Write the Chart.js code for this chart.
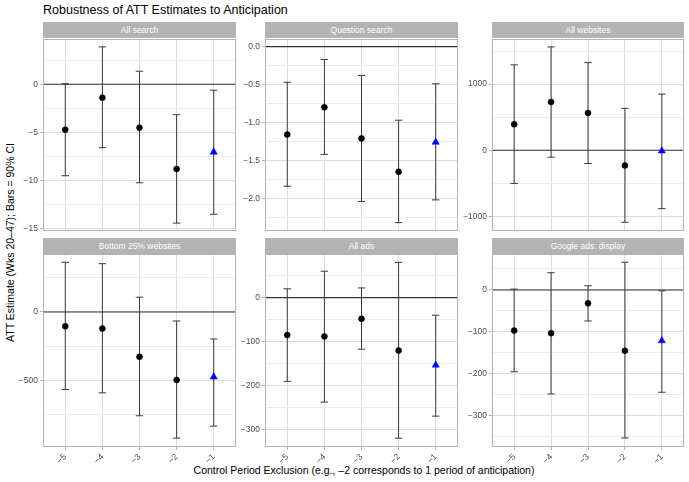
<!DOCTYPE html>
<html>
<head>
<meta charset="utf-8">
<script src="https://cdn.jsdelivr.net/npm/chart.js@4.4.1/dist/chart.umd.min.js"></script>
<style>
  html, body { margin: 0; padding: 0; }
  body {
    width: 689px; height: 482px; position: relative; overflow: hidden;
    background: #ffffff; font-family: "Liberation Sans", Arial, sans-serif;
  }
  .title { position: absolute; left: 43px; top: 3px; font-size: 12.5px; line-height: 15px; color: #000; white-space: nowrap; }
  .strip {
    position: absolute; height: 16px; background: #b3b3b3; color: #ffffff;
    font-size: 8.5px; line-height: 16px; text-align: center; white-space: nowrap;
  }
  .axis-title { position: absolute; font-size: 10.5px; line-height: 13px; color: #000; text-align: center; white-space: nowrap; }
  canvas { position: absolute; }
</style>
</head>
<body>
<div class="title">Robustness of ATT Estimates to Anticipation</div>
<div class="axis-title" style="left:-140px; top:236px; width:300px; transform:rotate(-90deg);">ATT Estimate (Wks 20–47); Bars = 90% CI</div>
<div class="axis-title" style="left:114px; top:464px; width:500px;">Control Period Exclusion (e.g., –2 corresponds to 1 period of anticipation)</div>

<script>
// Control-period exclusions on the x axis (the last one, -1, is the highlighted spec)
const exclusions = [-5, -4, -3, -2, -1];
const xTickLabels = ['\u22125', '\u22124', '\u22123', '\u22122', '\u22121'];

const panelTitles = ['All search', 'Question search', 'All websites',
                     'Bottom 25% websites', 'All ads', 'Google ads: display'];

// Point estimates and 90% CI bounds per outcome
const allSearchEst  = [-4.72, -1.39, -4.51, -8.80, -7.04];
const allSearchLow  = [-9.50, -6.59, -10.23, -14.42, -13.50];
const allSearchHigh = [0.06, 3.88, 1.35, -3.16, -0.62];

const questionSearchEst  = [-1.16, -0.80, -1.21, -1.65, -1.26];
const questionSearchLow  = [-1.84, -1.42, -2.04, -2.32, -2.02];
const questionSearchHigh = [-0.47, -0.17, -0.38, -0.97, -0.49];

const allWebsitesEst  = [392, 729, 563, -230, -10];
const allWebsitesLow  = [-502, -105, -200, -1089, -883];
const allWebsitesHigh = [1291, 1562, 1325, 633, 849];

const bottom25Est  = [-105, -122, -329, -498, -476];
const bottom25Low  = [-569, -593, -761, -925, -837];
const bottom25High = [364, 354, 108, -66, -198];

const allAdsEst  = [-85, -88, -48, -120, -153];
const allAdsLow  = [-190, -237, -117, -319, -269];
const allAdsHigh = [20, 60, 22, 80, -40];

const googleDisplayEst  = [-97, -103, -32, -145, -121];
const googleDisplayLow  = [-195, -248, -74, -353, -244];
const googleDisplayHigh = [2, 41, 10, 66, -2];

// Y tick values and labels per panel
const allSearchTicks = [0, -5, -10, -15];
const allSearchTickLabels = ['0', '\u22125', '\u221210', '\u221215'];
const questionSearchTicks = [0, -0.5, -1, -1.5, -2];
const questionSearchTickLabels = ['0.0', '\u22120.5', '\u22121.0', '\u22121.5', '\u22122.0'];
const allWebsitesTicks = [1000, 0, -1000];
const allWebsitesTickLabels = ['1000', '0', '\u22121000'];
const bottom25Ticks = [0, -500];
const bottom25TickLabels = ['0', '\u2212500'];
const allAdsTicks = [0, -100, -200, -300];
const allAdsTickLabels = ['0', '\u2212100', '\u2212200', '\u2212300'];
const googleDisplayTicks = [0, -100, -200, -300];
const googleDisplayTickLabels = ['0', '\u2212100', '\u2212200', '\u2212300'];

// Minor grid values
const allSearchMinor = [2.5, -2.5, -7.5, -12.5];
const questionSearchMinor = [-0.25, -0.75, -1.25, -1.75, -2.25];
const allWebsitesMinor = [1500, 500, -500];
const bottom25Minor = [250, -250, -750];
const allAdsMinor = [50, -50, -150, -250];
const googleDisplayMinor = [50, -50, -150, -250, -350];

// Panel geometry: plot-area boxes and y ranges
const colLeft = [43, 265, 492];
const colWidth = [193, 193, 192];
const rowTop = [39, 254];
const rowHeight = [192, 193];
const stripTop = [22, 238];

const panels = [
  { est: allSearchEst, low: allSearchLow, high: allSearchHigh, ticks: allSearchTicks, labels: allSearchTickLabels, minor: allSearchMinor, yMin: -15.24, yMax: 4.7 },
  { est: questionSearchEst, low: questionSearchLow, high: questionSearchHigh, ticks: questionSearchTicks, labels: questionSearchTickLabels, minor: questionSearchMinor, yMin: -2.43, yMax: 0.10 },
  { est: allWebsitesEst, low: allWebsitesLow, high: allWebsitesHigh, ticks: allWebsitesTicks, labels: allWebsitesTickLabels, minor: allWebsitesMinor, yMin: -1221, yMax: 1682 },
  { est: bottom25Est, low: bottom25Low, high: bottom25High, ticks: bottom25Ticks, labels: bottom25TickLabels, minor: bottom25Minor, yMin: -990, yMax: 425 },
  { est: allAdsEst, low: allAdsLow, high: allAdsHigh, ticks: allAdsTicks, labels: allAdsTickLabels, minor: allAdsMinor, yMin: -339, yMax: 99 },
  { est: googleDisplayEst, low: googleDisplayLow, high: googleDisplayHigh, ticks: googleDisplayTicks, labels: googleDisplayTickLabels, minor: googleDisplayMinor, yMin: -374.5, yMax: 85.7 }
];

const GRID = '#dedede';
const MINOR_GRID = '#ebebeb';
const BORDER = '#b3b3b3';
const TICK_TEXT = '#4d4d4d';
const tickFont = { family: '"Liberation Sans", Arial, sans-serif', size: 8.5 };

// Zero reference line, error bars and panel frame
const errorBars = {
  id: 'errorBars',
  beforeDatasetsDraw(chart, args, opts) {
    const { ctx, chartArea: a, scales: { x, y } } = chart;
    ctx.save();
    ctx.beginPath();
    ctx.rect(a.left, a.top, a.width, a.height);
    ctx.clip();
    const y0 = y.getPixelForValue(0);
    ctx.strokeStyle = '#333333';
    ctx.lineWidth = 1.1;
    ctx.beginPath();
    ctx.moveTo(a.left, y0);
    ctx.lineTo(a.right, y0);
    ctx.stroke();

    ctx.strokeStyle = opts.color;
    ctx.lineWidth = 1;
    opts.xs.forEach((xv, i) => {
      const px = x.getPixelForValue(xv);
      const lo = y.getPixelForValue(opts.low[i]);
      const hi = y.getPixelForValue(opts.high[i]);
      const l = x.getPixelForValue(xv - opts.cap);
      const r = x.getPixelForValue(xv + opts.cap);
      ctx.beginPath();
      ctx.moveTo(px, lo); ctx.lineTo(px, hi);
      ctx.moveTo(l, lo); ctx.lineTo(r, lo);
      ctx.moveTo(l, hi); ctx.lineTo(r, hi);
      ctx.stroke();
    });
    ctx.restore();
  },
  afterDraw(chart) {
    const { ctx, chartArea: a } = chart;
    ctx.save();
    ctx.strokeStyle = BORDER;
    ctx.lineWidth = 1;
    ctx.strokeRect(a.left + 0.5, a.top + 0.5, a.width - 1, a.height - 1);
    ctx.restore();
  }
};

const PAD = 8;
const Y_AXIS_W = 40;

panels.forEach((p, idx) => {
  const col = idx % 3, row = Math.floor(idx / 3);
  const bottomRow = row === 1;
  const xAxisH = bottomRow ? 22 : 0;

  const strip = document.createElement('div');
  strip.className = 'strip';
  strip.style.left = colLeft[col] + 'px';
  strip.style.top = stripTop[row] + 'px';
  strip.style.width = colWidth[col] + 'px';
  strip.textContent = panelTitles[idx];
  document.body.appendChild(strip);

  const canvas = document.createElement('canvas');
  const w = Y_AXIS_W + colWidth[col] + PAD;
  const h = PAD + rowHeight[row] + xAxisH + PAD;
  canvas.width = w; canvas.height = h;
  canvas.style.width = w + 'px'; canvas.style.height = h + 'px';
  canvas.style.left = (colLeft[col] - Y_AXIS_W) + 'px';
  canvas.style.top = (rowTop[row] - PAD) + 'px';
  document.body.appendChild(canvas);

  const gridValues = p.ticks.concat(p.minor).sort((a, b) => b - a);
  const isMinor = v => p.minor.includes(v);

  new Chart(canvas, {
    type: 'scatter',
    data: {
      datasets: [{
        data: exclusions.map((xv, i) => ({ x: xv, y: p.est[i] })),
        pointStyle: ctx => ctx.dataIndex === exclusions.length - 1 ? 'triangle' : 'circle',
        pointRadius: ctx => ctx.dataIndex === exclusions.length - 1 ? 4.2 : 3,
        backgroundColor: ctx => ctx.dataIndex === exclusions.length - 1 ? '#0000ff' : '#000000',
        borderColor: ctx => ctx.dataIndex === exclusions.length - 1 ? '#0000ff' : '#000000',
        borderWidth: 0.5
      }]
    },
    options: {
      responsive: false,
      animation: false,
      devicePixelRatio: 1,
      events: [],
      layout: { padding: { left: 0, top: PAD, right: PAD, bottom: PAD } },
      plugins: {
        legend: { display: false },
        tooltip: { enabled: false },
        errorBars: { xs: exclusions, low: p.low, high: p.high, cap: 0.1, color: '#3a3a3a' }
      },
      scales: {
        x: {
          type: 'linear',
          min: -5.6, max: -0.4,
          afterBuildTicks: s => { s.ticks = exclusions.map(v => ({ value: v })); },
          afterFit: s => { s.height = xAxisH; },
          border: { display: false },
          grid: { color: GRID, lineWidth: 1, drawTicks: bottomRow, tickLength: 3, tickColor: BORDER },
          ticks: {
            display: bottomRow, autoSkip: false, minRotation: 45, maxRotation: 45,
            padding: 2, color: TICK_TEXT, font: tickFont,
            callback: (v, i) => xTickLabels[i]
          }
        },
        y: {
          type: 'linear',
          min: p.yMin, max: p.yMax,
          afterBuildTicks: s => { s.ticks = gridValues.map(v => ({ value: v })); },
          afterFit: s => { s.width = Y_AXIS_W; },
          border: { display: false },
          grid: {
            color: ctx => isMinor(ctx.tick.value) ? MINOR_GRID : GRID,
            lineWidth: 1,
            drawTicks: true, tickLength: 3,
            tickColor: ctx => isMinor(ctx.tick.value) ? 'rgba(0,0,0,0)' : BORDER
          },
          ticks: {
            autoSkip: false, padding: 2, color: TICK_TEXT, font: tickFont,
            callback: v => {
              const k = p.ticks.indexOf(v);
              return k >= 0 ? p.labels[k] : '';
            }
          }
        }
      }
    },
    plugins: [errorBars]
  });
});
</script>
</body>
</html>
